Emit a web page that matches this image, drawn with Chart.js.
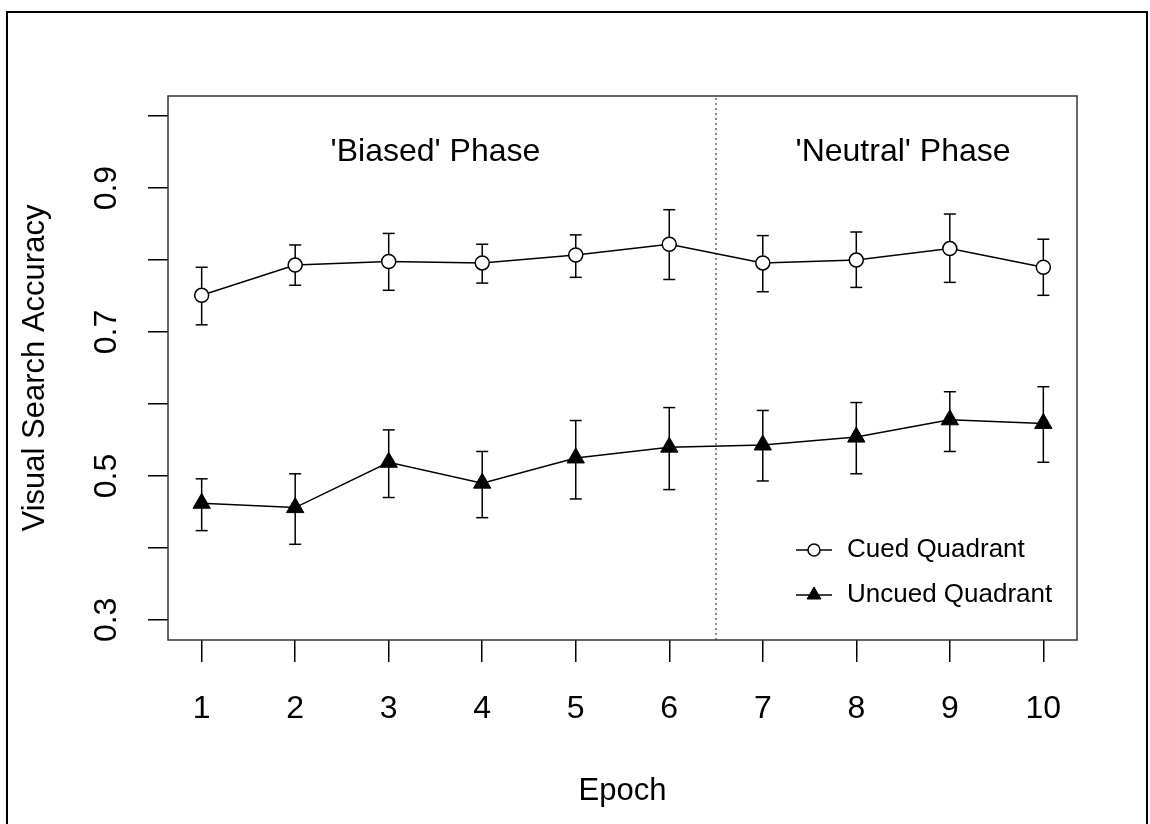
<!DOCTYPE html>
<html>
<head>
<meta charset="utf-8">
<script src="https://cdn.jsdelivr.net/npm/chart.js@4"></script>
<style>
  body { margin: 0; background: #fff; }
  canvas { display: block; }
</style>
</head>
<body>
<canvas id="accChart" width="1150" height="824"></canvas>
<script>
const epochs = [1, 2, 3, 4, 5, 6, 7, 8, 9, 10];

const cuedMean = [0.751, 0.793, 0.798, 0.796, 0.807, 0.822, 0.796, 0.800, 0.816, 0.790];
const cuedLower = [0.710, 0.765, 0.758, 0.768, 0.776, 0.773, 0.756, 0.762, 0.769, 0.751];
const cuedUpper = [0.790, 0.821, 0.837, 0.822, 0.835, 0.870, 0.834, 0.839, 0.864, 0.829];

const uncuedMean = [0.462, 0.456, 0.519, 0.490, 0.525, 0.540, 0.543, 0.554, 0.578, 0.573];
const uncuedLower = [0.424, 0.405, 0.470, 0.442, 0.468, 0.481, 0.493, 0.503, 0.534, 0.519];
const uncuedUpper = [0.496, 0.503, 0.564, 0.534, 0.577, 0.595, 0.591, 0.602, 0.617, 0.624];

const yTicks = [0.3, 0.4, 0.5, 0.6, 0.7, 0.8, 0.9, 1.0];
const yLabels = [0.3, 0.5, 0.7, 0.9];
const phaseSplit = 6.5;
const phases = [
  { label: "'Biased' Phase", x: 3.5, y: 0.95 },
  { label: "'Neutral' Phase", x: 8.5, y: 0.95 },
];
const seriesNames = ["Cued Quadrant", "Uncued Quadrant"];

const xMin = 0.64, xMax = 10.36;
const yMin = 0.272, yMax = 1.028;

const FONT = "'Liberation Sans', Arial, Helvetica, sans-serif";

function points(ys) {
  return epochs.map((x, i) => ({ x: x, y: ys[i] }));
}

// vertical bars with caps, broken by null points
function errorBars(lo, hi) {
  let out = [];
  epochs.forEach((x, i) => {
    out.push({ x: x, y: lo[i] });
    out.push({ x: x, y: hi[i] });
    out.push({ x: x, y: null });
  });
  return out;
}

const extras = {
  id: "extras",
  afterDraw(chart) {
    const ctx = chart.ctx;
    const xs = chart.scales.x;
    const ys = chart.scales.y;
    const a = chart.chartArea;
    ctx.save();

    // outer frame
    ctx.strokeStyle = "#000";
    ctx.lineWidth = 2;
    ctx.strokeRect(7, 12, 1140, 830);

    // plot box
    ctx.strokeStyle = "#333";
    ctx.lineWidth = 1.5;
    ctx.strokeRect(a.left, a.top, a.right - a.left, a.bottom - a.top);

    // y labels, vertical like R
    ctx.fillStyle = "#000";
    ctx.font = "32px " + FONT;
    ctx.textAlign = "center";
    ctx.textBaseline = "middle";
    yLabels.forEach((v) => {
      ctx.save();
      ctx.translate(107, ys.getPixelForValue(v));
      ctx.rotate(-Math.PI / 2);
      ctx.fillText(v.toFixed(1), 0, 0);
      ctx.restore();
    });

    // phase labels
    phases.forEach((p) => {
      ctx.fillText(p.label, xs.getPixelForValue(p.x), ys.getPixelForValue(p.y));
    });

    // legend
    const legX = 814, legText = 847;
    const legY = [550, 595];
    ctx.font = "26px " + FONT;
    ctx.textAlign = "left";
    seriesNames.forEach((name, i) => {
      const ds = chart.data.datasets[i];
      ctx.strokeStyle = "#000";
      ctx.lineWidth = 1.5;
      ctx.beginPath();
      ctx.moveTo(legX - 18, legY[i]);
      ctx.lineTo(legX + 18, legY[i]);
      ctx.stroke();
      ctx.fillStyle = ds.pointBackgroundColor;
      ctx.strokeStyle = ds.pointBorderColor;
      ctx.lineWidth = ds.pointBorderWidth;
      Chart.helpers.drawPoint(ctx, {
        pointStyle: ds.pointStyle,
        radius: i === 0 ? 6 : 8,
        rotation: 0,
        borderWidth: ds.pointBorderWidth,
      }, legX, legY[i]);
      ctx.fillStyle = "#000";
      ctx.fillText(name, legText, legY[i]);
    });
    ctx.restore();
  },
};

const config = {
  type: "line",
  data: {
    datasets: [
      {
        label: seriesNames[0],
        data: points(cuedMean),
        borderColor: "#000",
        borderWidth: 1.5,
        pointStyle: "circle",
        pointRadius: 7,
        pointBackgroundColor: "#fff",
        pointBorderColor: "#000",
        pointBorderWidth: 1.5,
        order: 0,
      },
      {
        label: seriesNames[1],
        data: points(uncuedMean),
        borderColor: "#000",
        borderWidth: 1.5,
        pointStyle: "triangle",
        pointRadius: 10,
        pointBackgroundColor: "#000",
        pointBorderColor: "#000",
        pointBorderWidth: 1,
        order: 0,
      },
      {
        label: "cued err",
        data: errorBars(cuedLower, cuedUpper),
        borderColor: "#000",
        borderWidth: 1.5,
        pointStyle: "line",
        pointRadius: 6,
        pointBorderColor: "#000",
        pointBorderWidth: 1.5,
        spanGaps: false,
        order: 1,
      },
      {
        label: "uncued err",
        data: errorBars(uncuedLower, uncuedUpper),
        borderColor: "#000",
        borderWidth: 1.5,
        pointStyle: "line",
        pointRadius: 6,
        pointBorderColor: "#000",
        pointBorderWidth: 1.5,
        spanGaps: false,
        order: 1,
      },
      {
        label: "phase split",
        data: [{ x: phaseSplit, y: yMin }, { x: phaseSplit, y: yMax }],
        borderColor: "#8a8a8a",
        borderWidth: 2,
        borderDash: [2, 3],
        pointRadius: 0,
        order: 2,
      },
    ],
  },
  options: {
    responsive: false,
    animation: false,
    devicePixelRatio: 1,
    layout: { padding: { left: 0, top: 96, right: 73, bottom: 0 } },
    plugins: { legend: { display: false }, tooltip: { enabled: false } },
    scales: {
      x: {
        type: "linear",
        min: xMin,
        max: xMax,
        afterBuildTicks: (s) => { s.ticks = epochs.map((v) => ({ value: v })); },
        afterFit: (s) => { s.height = 184; },
        border: { display: false },
        grid: { drawOnChartArea: false, color: "#000", lineWidth: 1.5, tickLength: 22 },
        ticks: { autoSkip: false, maxRotation: 0, color: "#000", padding: 28, font: { family: FONT, size: 32 } },
        title: { display: true, text: "Epoch", color: "#000", font: { family: FONT, size: 31 }, padding: { top: 0, bottom: 14 } },
      },
      y: {
        type: "linear",
        min: yMin,
        max: yMax,
        afterBuildTicks: (s) => { s.ticks = yTicks.map((v) => ({ value: v })); },
        afterFit: (s) => { s.width = 168; },
        border: { display: false },
        grid: { drawOnChartArea: false, color: "#000", lineWidth: 1.5, tickLength: 20 },
        ticks: { display: false },
        title: { display: true, text: "Visual Search Accuracy", color: "#000", font: { family: FONT, size: 31 }, padding: { top: 17, bottom: 0 } },
      },
    },
  },
  plugins: [extras],
};

const accChart = new Chart(document.getElementById("accChart"), config);
</script>
</body>
</html>
